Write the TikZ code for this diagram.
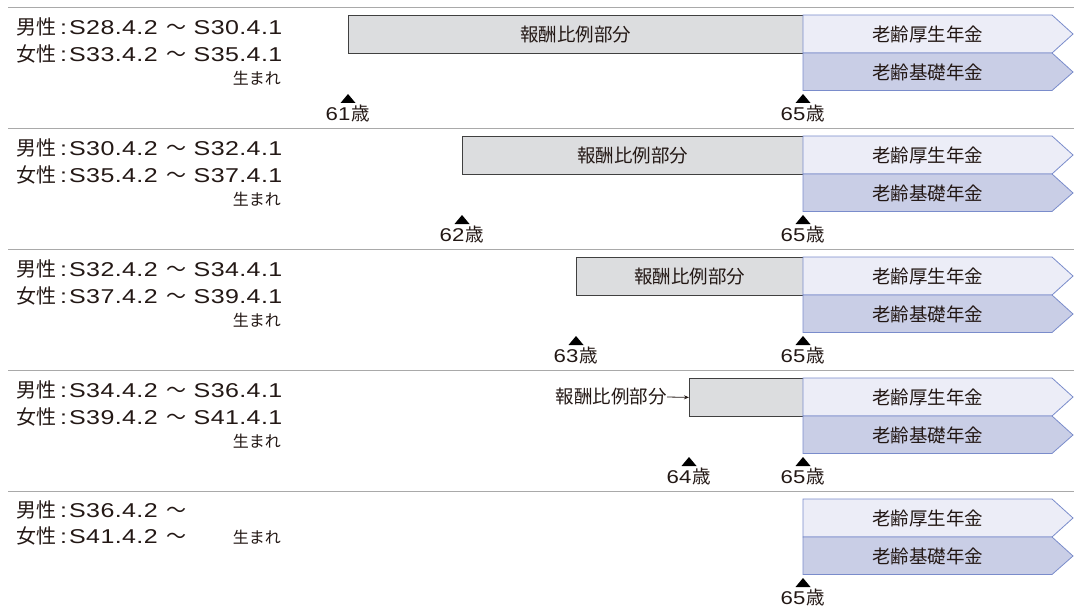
\documentclass[tikz,border=0pt]{standalone}
\usepackage{fontspec}
\setmainfont{Noto Sans CJK JP}
\newfontfamily\latinw[FakeStretch=1.25, LetterSpace=2]{Liberation Sans}
\newfontfamily\latina[FakeStretch=1.2]{Liberation Sans}
\newcommand{\lw}[1]{{\latinw #1}}
\newcommand{\la}[1]{{\latina #1}}
\newcommand{\sep}{\hspace{4pt}\lw{:}\hspace{2pt}}
\newcommand{\wave}{\hspace{9pt}～\hspace{7pt}}
\usetikzlibrary{arrows.meta}
\definecolor{ink}{HTML}{231815}
\definecolor{sepgray}{HTML}{A9A9A9}
\definecolor{boxgray}{HTML}{DCDDDF}
\definecolor{boxline}{HTML}{404040}
\definecolor{koseifill}{HTML}{ECEDF7}
\definecolor{kisofill}{HTML}{C9CEE6}
\definecolor{blueline}{HTML}{7A8CCB}
\tikzset{
  sepline/.style={draw=sepgray, line width=1.3pt},
  graybox/.style={draw=boxline, fill=boxgray, line width=0.8pt, anchor=north west, minimum height=38pt, inner sep=0pt, text=ink, font=\fontsize{18.5}{20}\selectfont},
  koseishape/.style={draw=blueline, fill=koseifill, line width=0.8pt},
  kisoshape/.style={draw=blueline, fill=kisofill, line width=0.8pt},
  blabel/.style={text=ink, font=\fontsize{18.5}{20}\selectfont, inner sep=0pt},
  birthtxt/.style={text=ink, anchor=west, inner sep=0pt, font=\fontsize{20}{24}\selectfont},
  umare/.style={text=ink, anchor=east, inner sep=0pt, font=\fontsize{16}{18}\selectfont},
  agelabel/.style={text=ink, inner sep=0pt, font=\fontsize{18.5}{20}\selectfont},
  marker/.style={fill=black},
}
\newcommand{\pensionpair}[2]{%
  \path[koseishape] (803,#1+7.5) -- (1052,#1+7.5) -- (1073,#1+26.5) -- (1052,#1+45.5) -- (803,#1+45.5) -- cycle;
  \path[kisoshape] (803,#1+45.5) -- (1052,#1+45.5) -- (1073,#1+64.5) -- (1052,#1+83) -- (803,#1+83) -- cycle;
  \node[blabel] (kosei#2) at (927.5,#1+26.5) {老齢厚生年金};
  \node[blabel] (kiso#2) at (927.5,#1+64.5) {老齢基礎年金};
}
\newcommand{\agemark}[4]{%
  \fill[marker] (#1,#2+86.5) -- (#1+7.5,#2+95.5) -- (#1-7.5,#2+95.5) -- cycle;
  \node[agelabel] (#4) at (#1,#2+106) {\la{#3}\hspace{1.5pt}歳};
}
\begin{document}
\begin{tikzpicture}[x=1pt,y=-1pt]
\useasboundingbox (0,0) rectangle (1074,607);
% separators
\draw[sepline] (8,7.5) -- (1074,7.5);
\draw[sepline] (8,128.5) -- (1074,128.5);
\draw[sepline] (8,249.5) -- (1074,249.5);
\draw[sepline] (8,370.5) -- (1074,370.5);
\draw[sepline] (8,491.5) -- (1074,491.5);

% row 1
\node[birthtxt] (m1) at (16,27) {男性\sep\lw{S28.4.2}\wave\lw{S30.4.1}};
\node[birthtxt] (f1) at (16,53.5) {女性\sep\lw{S33.4.2}\wave\lw{S35.4.1}};
\node[umare] (u1) at (281,78) {生まれ};
\node[graybox, minimum width=455pt] (g1) at (348,15) {報酬比例部分};
\pensionpair{7.5}{1}
\agemark{348}{7.5}{61}{a61}
\agemark{803}{7.5}{65}{b65}

% row 2
\node[birthtxt] (m2) at (16,148) {男性\sep\lw{S30.4.2}\wave\lw{S32.4.1}};
\node[birthtxt] (f2) at (16,174.5) {女性\sep\lw{S35.4.2}\wave\lw{S37.4.1}};
\node[umare] (u2) at (281,199) {生まれ};
\node[graybox, minimum width=341pt] (g2) at (462,136) {報酬比例部分};
\pensionpair{128.5}{2}
\agemark{462}{128.5}{62}{a62}
\agemark{803}{128.5}{65}{c65}

% row 3
\node[birthtxt] (m3) at (16,269) {男性\sep\lw{S32.4.2}\wave\lw{S34.4.1}};
\node[birthtxt] (f3) at (16,295.5) {女性\sep\lw{S37.4.2}\wave\lw{S39.4.1}};
\node[umare] (u3) at (281,320) {生まれ};
\node[graybox, minimum width=227pt] (g3) at (576,257) {報酬比例部分};
\pensionpair{249.5}{3}
\agemark{576}{249.5}{63}{a63}
\agemark{803}{249.5}{65}{d65}

% row 4
\node[birthtxt] (m4) at (16,390) {男性\sep\lw{S34.4.2}\wave\lw{S36.4.1}};
\node[birthtxt] (f4) at (16,416.5) {女性\sep\lw{S39.4.2}\wave\lw{S41.4.1}};
\node[umare] (u4) at (281,441) {生まれ};
\node[graybox, minimum width=114pt] (g4) at (689,378) {};
\node[blabel, anchor=east] (l4) at (667,397) {報酬比例部分};
\draw[ink, line width=0.8pt, -{Stealth[length=5pt,width=4pt]}] (l4.east) -- (g4.west);
\pensionpair{370.5}{4}
\agemark{689}{370.5}{64}{a64}
\agemark{803}{370.5}{65}{e65}

% row 5
\node[birthtxt] (m5) at (16,509.5) {男性\sep\lw{S36.4.2}\wave};
\node[birthtxt] (f5) at (16,536) {女性\sep\lw{S41.4.2}\wave};
\node[umare] (u5) at (281,537.5) {生まれ};
\pensionpair{491.5}{5}
\agemark{803}{491.5}{65}{f65}
\end{tikzpicture}
\end{document}
